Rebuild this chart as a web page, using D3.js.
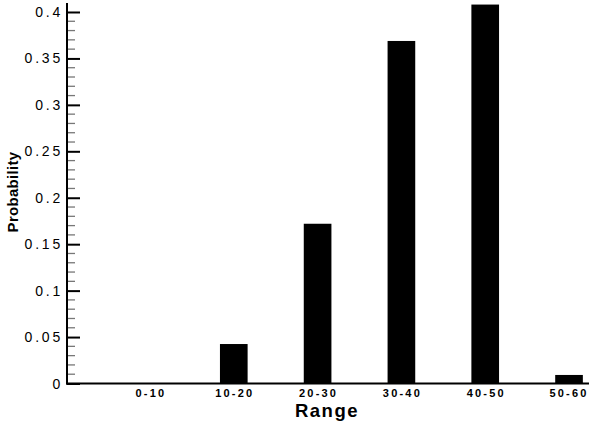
<!DOCTYPE html>
<meta charset="utf-8">
<style>
  body { margin: 0; background: #fff; }
  text { font-family: "Liberation Sans", Arial, sans-serif; }
</style>
<script src="https://d3js.org/d3.v7.min.js"></script>
<div id="chart"></div>
<script>
// categories and probabilities
var ranges = ["0-10", "10-20", "20-30", "30-40", "40-50", "50-60"];
var probability = [0, 0.0425, 0.172, 0.3688, 0.408, 0.0092];
var yTicks = [0, 0.05, 0.1, 0.15, 0.2, 0.25, 0.3, 0.35, 0.4];
var yMinorTicks = d3.range(0, 41).map(d => d / 100);

var width = 589, height = 422;
var axisX = 67, axisY = 383.5;

var svg = d3.select("#chart").append("svg")
    .attr("width", width)
    .attr("height", height);

// band scale runs past the right edge, the last label sits on the edge like in the original
var x = d3.scaleBand()
    .domain(ranges)
    .range([axisX, 652])
    .paddingInner(0.67)
    .paddingOuter(0.825);

var y = d3.scaleLinear()
    .domain([0, 0.41])
    .range([axisY, 2.7]);

// bars
svg.append("g").selectAll("rect")
  .data(ranges)
  .join("rect")
    .attr("x", d => x(d))
    .attr("width", x.bandwidth())
    .attr("y", (d, i) => y(probability[i]))
    .attr("height", (d, i) => y(0) - y(probability[i]))
    .attr("fill", "#000");

// minor ticks (inside)
svg.append("g").selectAll("line")
  .data(yMinorTicks.filter(d => Math.round(d * 100) % 5 != 0))
  .join("line")
    .attr("x1", axisX)
    .attr("x2", axisX + 8)
    .attr("y1", d => y(d))
    .attr("y2", d => y(d))
    .attr("stroke", "#777")
    .attr("stroke-width", 1.3);

// y axis with major ticks pointing inward
var yAxis = svg.append("g")
    .attr("transform", "translate(" + axisX + ",0)")
    .call(d3.axisRight(y).tickValues(yTicks).tickSize(13).tickFormat(""));
yAxis.select(".domain").remove();
yAxis.selectAll(".tick line").attr("stroke", "#000").attr("stroke-width", 2);

svg.append("g").selectAll("text")
  .data(yTicks)
  .join("text")
    .attr("x", 63)
    .attr("y", d => y(d))
    .attr("dy", "0.36em")
    .attr("text-anchor", "end")
    .style("font-size", "14px")
    .style("letter-spacing", "2.8px")
    .text(d => d);

// axis lines
svg.append("line")
    .attr("x1", axisX).attr("x2", axisX)
    .attr("y1", 3).attr("y2", axisY + 1)
    .attr("stroke", "#000").attr("stroke-width", 2);
svg.append("line")
    .attr("x1", axisX - 1).attr("x2", width)
    .attr("y1", axisY).attr("y2", axisY)
    .attr("stroke", "#000").attr("stroke-width", 2);

// x labels
svg.append("g").selectAll("text")
  .data(ranges)
  .join("text")
    .attr("x", d => Math.min(x(d) + x.bandwidth() / 2 + 1, 569))
    .attr("y", 397)
    .attr("text-anchor", "middle")
    .style("font-size", "11px")
    .style("font-weight", "bold")
    .style("letter-spacing", "2.2px")
    .text(d => d);

// axis titles
svg.append("text")
    .attr("x", 327)
    .attr("y", 416.7)
    .attr("text-anchor", "middle")
    .style("font-size", "18.5px")
    .style("font-weight", "bold")
    .style("letter-spacing", "1.5px")
    .text("Range");

svg.append("text")
    .attr("transform", "translate(17.5,192) rotate(-90)")
    .attr("text-anchor", "middle")
    .style("font-size", "15px")
    .style("font-weight", "bold")
    .style("letter-spacing", "0.3px")
    .text("Probability");
</script>
